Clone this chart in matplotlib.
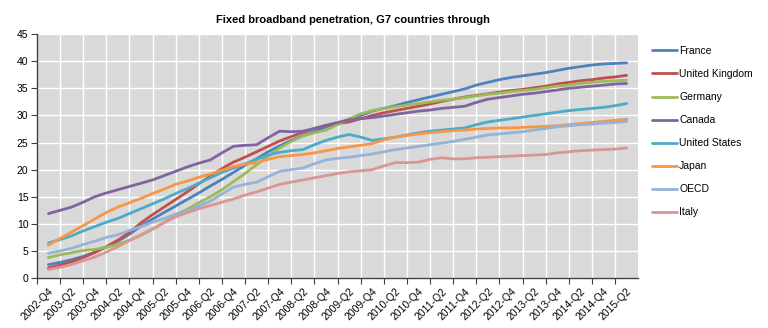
import matplotlib
matplotlib.use("Agg")
import matplotlib.pyplot as plt

plt.rcParams["font.family"] = ["Liberation Sans", "DejaVu Sans"]

# quarters 2002-Q4 .. 2015-Q2
quarters = ["2002-Q4"]
for yr in range(2003, 2016):
    for q in range(1, 5):
        quarters.append(f"{yr}-Q{q}")
quarters = quarters[:51]

france = [2.5, 2.9, 3.4, 4.0, 4.8, 5.7, 6.8, 8.1, 9.6, 10.9, 12.1, 13.3, 14.5, 15.7, 17.0, 18.2, 19.5,
          20.8, 22.0, 23.3, 24.4, 25.4, 26.3, 27.0, 27.9, 28.5, 29.1, 30.0, 30.8, 31.3, 31.8, 32.4, 32.9,
          33.4, 33.9, 34.4, 34.9, 35.6, 36.1, 36.6, 37.0, 37.3, 37.6, 37.9, 38.3, 38.7, 39.0, 39.3, 39.5,
          39.6, 39.7]
uk = [1.9, 2.4, 3.0, 3.8, 4.7, 5.8, 7.0, 8.4, 10.2, 11.7, 13.1, 14.5, 15.9, 17.4, 18.8, 20.2, 21.4,
      22.3, 23.3, 24.3, 25.3, 26.1, 26.9, 27.6, 28.1, 28.5, 28.8, 29.4, 30.0, 30.5, 30.9, 31.3, 31.7,
      32.1, 32.6, 33.0, 33.4, 33.7, 34.0, 34.3, 34.6, 34.8, 35.1, 35.4, 35.8, 36.1, 36.4, 36.6, 36.9,
      37.1, 37.4]
germany = [3.8, 4.3, 4.7, 5.1, 5.3, 5.7, 6.2, 7.0, 7.9, 9.0, 10.3, 11.7, 12.7, 13.9, 15.0, 16.3, 17.8,
           19.3, 20.9, 22.5, 24.0, 25.2, 26.2, 26.8, 27.3, 28.3, 29.4, 30.3, 30.9, 31.3, 31.6, 31.9, 32.2,
           32.5, 32.8, 33.0, 33.3, 33.6, 33.9, 34.1, 34.4, 34.6, 34.8, 35.1, 35.4, 35.6, 35.9, 36.1, 36.3,
           36.4, 36.5]
canada = [11.9, 12.5, 13.1, 14.0, 15.0, 15.7, 16.3, 16.9, 17.5, 18.1, 18.9, 19.7, 20.5, 21.2, 21.8, 23.1,
          24.3, 24.5, 24.6, 25.9, 27.1, 27.0, 27.1, 27.6, 28.2, 28.7, 29.2, 29.4, 29.6, 29.9, 30.2, 30.5,
          30.8, 31.0, 31.3, 31.5, 31.7, 32.4, 33.0, 33.3, 33.6, 33.9, 34.1, 34.4, 34.7, 35.0, 35.2, 35.4,
          35.6, 35.8, 35.9]
usa = [6.5, 7.1, 7.8, 8.7, 9.5, 10.3, 11.0, 11.9, 12.8, 13.7, 14.6, 15.6, 16.5, 17.5, 18.5, 19.5, 20.3,
       21.1, 21.9, 22.7, 23.2, 23.5, 23.7, 24.6, 25.4, 26.0, 26.5, 26.0, 25.4, 25.7, 26.0, 26.4, 26.8,
       27.1, 27.3, 27.5, 27.7, 28.3, 28.8, 29.1, 29.4, 29.7, 30.0, 30.3, 30.6, 30.9, 31.1, 31.3, 31.5,
       31.8, 32.2]
japan = [6.1, 7.3, 8.5, 9.7, 10.9, 12.1, 13.1, 13.9, 14.7, 15.6, 16.4, 17.3, 17.9, 18.6, 19.2, 19.9,
         20.6, 21.0, 21.3, 21.9, 22.4, 22.6, 22.8, 23.1, 23.5, 23.9, 24.2, 24.5, 24.8, 25.5, 26.0, 26.3,
         26.6, 26.8, 27.0, 27.2, 27.3, 27.5, 27.6, 27.7, 27.7, 27.8, 27.9, 28.0, 28.1, 28.3, 28.5, 28.7,
         28.9, 29.1, 29.3]
oecd = [4.6, 5.0, 5.5, 6.2, 6.8, 7.5, 8.0, 8.8, 9.5, 10.3, 11.0, 11.8, 12.4, 13.3, 14.2, 15.5, 16.8,
        17.3, 17.7, 18.7, 19.7, 20.0, 20.3, 21.1, 21.8, 22.1, 22.3, 22.6, 22.9, 23.3, 23.7, 24.0, 24.3,
        24.6, 24.9, 25.2, 25.6, 26.0, 26.4, 26.6, 26.8, 27.0, 27.3, 27.6, 27.9, 28.1, 28.3, 28.4, 28.6,
        28.7, 28.9]
italy = [1.6, 2.0, 2.5, 3.2, 3.9, 4.8, 5.8, 6.9, 8.0, 9.1, 10.2, 11.3, 12.1, 12.8, 13.4, 14.0, 14.6,
         15.3, 15.9, 16.6, 17.3, 17.7, 18.1, 18.5, 18.9, 19.3, 19.6, 19.8, 20.0, 20.7, 21.3, 21.3, 21.4,
         21.9, 22.2, 22.0, 22.0, 22.2, 22.3, 22.4, 22.5, 22.6, 22.7, 22.8, 23.1, 23.3, 23.5, 23.6, 23.7,
         23.8, 24.0]

names = ["France", "United Kingdom", "Germany", "Canada", "United States", "Japan", "OECD", "Italy"]
series = [france, uk, germany, canada, usa, japan, oecd, italy]
colors = ["#4F81BD", "#C0504D", "#9BBB59", "#8064A2", "#4BACC6", "#F79646", "#95B3D7", "#D99694"]

fig = plt.figure(figsize=(7.68, 3.28), dpi=100)
ax = fig.add_axes([0.048, 0.152, 0.783, 0.744])
ax.set_facecolor("#D9D9D9")

x = list(range(len(quarters)))
lines = []
for name, vals, c in zip(names, series, colors):
    ln, = ax.plot(x, vals, color=c, lw=2.0, label=name, solid_capstyle="round")
    lines.append(ln)

ax.set_xlim(-1, 51)
ax.set_ylim(0, 45)
ax.set_yticks(range(0, 46, 5))
ax.set_xticks(range(-1, 51, 2))
ax.set_xticklabels([])
ax.set_xticks(x[::2], minor=True)
ax.set_xticklabels(quarters[::2], minor=True, rotation=45, ha="right", va="top",
                   rotation_mode="anchor", fontsize=7.5)
ax.tick_params(axis="x", which="minor", length=0, pad=6)
ax.tick_params(axis="x", which="major", length=4, color="#404040", direction="out")
ax.tick_params(axis="y", length=4, color="#404040", labelsize=7.5, pad=2)

ax.grid(True, which="major", color="white", lw=1.0)
ax.set_axisbelow(True)
for s in ["top", "right"]:
    ax.spines[s].set_visible(False)
for s in ["left", "bottom"]:
    ax.spines[s].set_color("#404040")
    ax.spines[s].set_linewidth(1.0)

fig.text(0.46, 0.94, "Fixed broadband penetration, G7 countries through",
         ha="center", va="center", fontsize=8, fontweight="bold")

fig.legend(lines, names, loc="upper left", bbox_to_anchor=(0.837, 0.888), frameon=False,
           fontsize=7.5, handlelength=2.4, handletextpad=0.2, labelspacing=1.25)

fig.savefig("out.png", dpi=100)
